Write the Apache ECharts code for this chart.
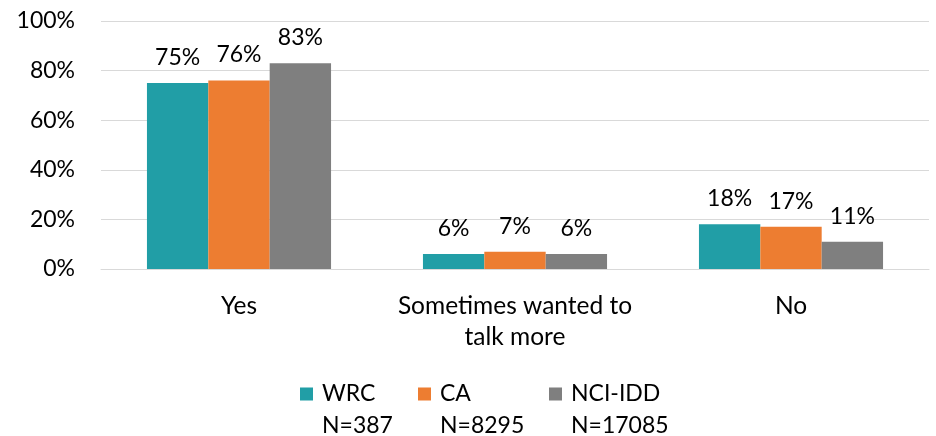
<!DOCTYPE html>
<html><head><meta charset="utf-8">
<script src="https://cdn.jsdelivr.net/npm/echarts@6/dist/echarts.min.js"></script>
<style>html,body{margin:0;padding:0;background:#fff}#c{width:936px;height:436px}</style>
</head><body><div id="c"></div>
<script>
const categories = ['Yes', 'Sometimes wanted to\ntalk more', 'No'];
const seriesNames = ['WRC', 'CA', 'NCI-IDD'];
const seriesN = ['N=387', 'N=8295', 'N=17085'];
const wrc = [75, 6, 18];
const ca = [76, 7, 17];
const nci = [83, 6, 11];
const yTicks = [0, 20, 40, 60, 80, 100];
const colors = ['#219EA6', '#ED7D31', '#7F7F7F'];

const FONT = 'Lato';
const legendLeft = [295, 413, 544];
const chart = echarts.init(document.getElementById('c'));
const values = [wrc, ca, nci];
chart.setOption({
  animation: false,
  textStyle: { fontFamily: FONT },
  grid: { left: 101, right: 7, top: 21, bottom: 167, containLabel: false },
  legend: seriesNames.map((n, i) => ({
    left: legendLeft[i], top: 373,
    itemWidth: 13, itemHeight: 45, itemGap: 0,
    icon: 'path://M0,0L13,0L13,13L0,13Z M0,45L0.01,45Z',
    data: [n],
    formatter: function (name) { return name + '\n' + seriesN[seriesNames.indexOf(name)]; },
    textStyle: { fontFamily: FONT, fontSize: 23, color: '#000', lineHeight: 32, padding: [0, 0, 0, 4] }
  })),
  xAxis: {
    type: 'category', data: categories,
    axisLine: { show: true, lineStyle: { color: '#D9D9D9', width: 1 } },
    axisTick: { show: false },
    axisLabel: { fontFamily: FONT, fontSize: 24.5, color: '#000', margin: 22, lineHeight: 31, interval: 0 }
  },
  yAxis: {
    type: 'value', min: 0, max: 100, interval: 20,
    axisLine: { show: false }, axisTick: { show: false },
    splitLine: { lineStyle: { color: '#D9D9D9', width: 1 } },
    axisLabel: { fontFamily: FONT, fontSize: 23, color: '#000', margin: 26, formatter: v => yTicks.includes(v) ? v + '%' : '' }
  },
  series: seriesNames.map((n, i) => ({
    name: n, type: 'bar', data: values[i],
    barGap: '0%', barCategoryGap: '33.3%',
    itemStyle: { color: colors[i] },
    label: { show: true, position: 'top', distance: 14, fontFamily: FONT, fontSize: 23, color: '#000', formatter: p => p.value + '%' }
  }))
});
</script></body></html>
